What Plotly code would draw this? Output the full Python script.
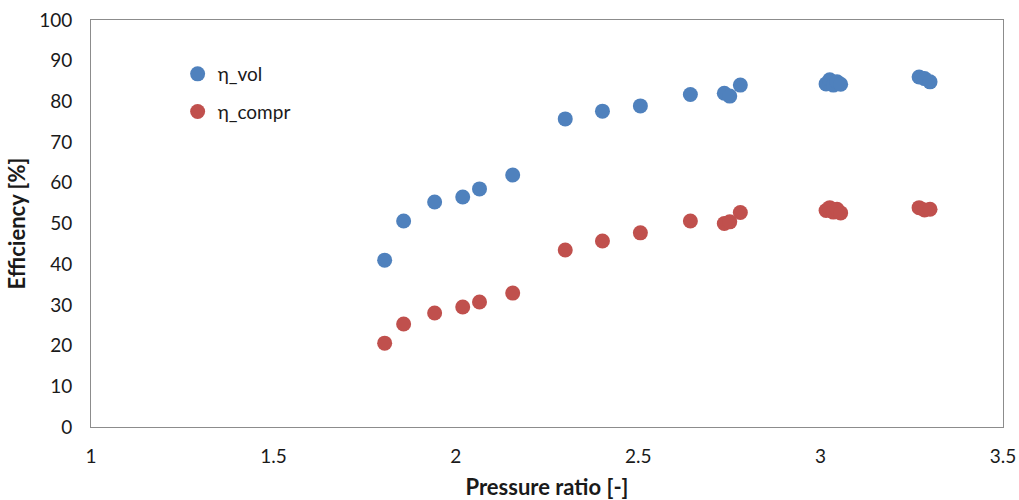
import plotly.graph_objects as go

pressure_ratio = [1.805, 1.857, 1.942, 2.019, 2.065, 2.156, 2.300, 2.402, 2.506, 2.643,
                  2.736, 2.751, 2.780, 3.015, 3.025, 3.035, 3.045, 3.055,
                  3.270, 3.285, 3.300]
eta_vol = [41.0, 50.6, 55.3, 56.5, 58.5, 61.9, 75.7, 77.6, 78.9, 81.7,
           82.0, 81.3, 84.0, 84.3, 85.3, 84.0, 84.8, 84.2,
           86.0, 85.6, 84.8]
eta_compr = [20.6, 25.3, 28.0, 29.5, 30.7, 32.9, 43.5, 45.7, 47.7, 50.6,
             50.0, 50.4, 52.7, 53.2, 53.9, 52.8, 53.5, 52.6,
             53.9, 53.3, 53.5]

x_ticks = [1, 1.5, 2, 2.5, 3, 3.5]
x_tick_labels = ["1", "1.5", "2", "2.5", "3", "3.5"]
y_ticks = [0, 10, 20, 30, 40, 50, 60, 70, 80, 90, 100]

FONT = "Lato, 'Liberation Sans', sans-serif"
BLUE = "#4F81BD"
RED = "#C0504D"
TXT = "#1a1a1a"

fig = go.Figure()
fig.add_trace(go.Scatter(x=pressure_ratio, y=eta_vol, mode="markers", name="η_vol",
                         legendgroup="vol",
                         marker=dict(color=BLUE, size=15, line=dict(width=0))))
fig.add_trace(go.Scatter(x=pressure_ratio, y=eta_compr, mode="markers", name="η_compr",
                         legendgroup="compr",
                         marker=dict(color=RED, size=15, line=dict(width=0))))

fig.update_layout(
    width=1019, height=500,
    margin=dict(l=91, r=16, t=20, b=73),
    paper_bgcolor="white", plot_bgcolor="white",
    font=dict(family=FONT, size=19, color=TXT),
    showlegend=True,
    legend=dict(x=0.095, y=0.914, xanchor="left", yanchor="top",
                bgcolor="rgba(0,0,0,0)", traceorder="grouped", tracegroupgap=10,
                itemwidth=30, font=dict(family=FONT, size=19, color=TXT)),
    xaxis=dict(range=[1, 3.5], tickvals=x_ticks, ticktext=x_tick_labels,
               automargin=False, ticklabeloverflow="allow",
               showgrid=False, zeroline=False, showline=True, mirror=True,
               linecolor="#8C8C8C", linewidth=1,
               ticks="outside", ticklen=12, tickcolor="rgba(0,0,0,0)",
               tickfont=dict(family=FONT, size=19, color=TXT),
               title=dict(text="<b>Pressure ratio [-]</b>", standoff=14,
                          font=dict(family=FONT, size=22, color=TXT))),
    yaxis=dict(range=[0, 100], tickvals=y_ticks,
               automargin=False, ticklabeloverflow="allow",
               showgrid=False, zeroline=False, showline=True, mirror=True,
               linecolor="#8C8C8C", linewidth=1,
               ticks="outside", ticklen=14, tickcolor="rgba(0,0,0,0)",
               tickfont=dict(family=FONT, size=19, color=TXT),
               title=dict(text="<b>Efficiency [%]</b>", standoff=7,
                          font=dict(family=FONT, size=22, color=TXT))),
)

# remove the default 8px body margin so the figure fills the window exactly
fig.write_html("out.html",
               config={"displayModeBar": False},
               post_script="document.body.style.margin='0';document.body.style.overflow='hidden';")
